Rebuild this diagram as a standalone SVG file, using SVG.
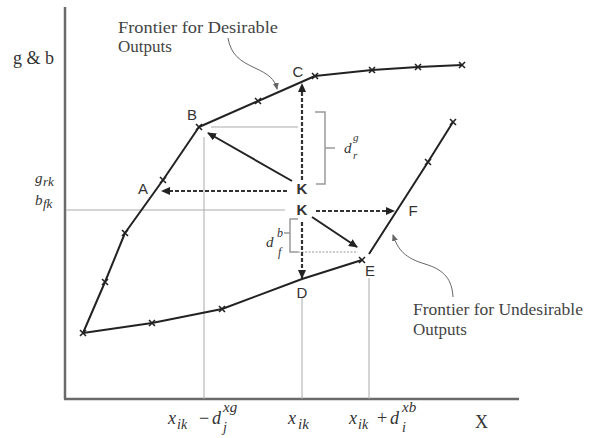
<svg xmlns="http://www.w3.org/2000/svg" xmlns:xlink="http://www.w3.org/1999/xlink" width="592" height="438" viewBox="0 0 592 438">
<style>
.ax{stroke:#6a6a6a;stroke-width:2.5;fill:none}
.fr{stroke:#222;stroke-width:2;fill:none;stroke-linejoin:round}
.guide{stroke:#aaa;stroke-width:1;fill:none}
.dot{stroke:#999;stroke-width:1;fill:none;stroke-dasharray:2 1.5}
.br{stroke:#999;stroke-width:1.5;fill:none}
.sol{stroke:#222;stroke-width:2;fill:none}
.dash{stroke:#333;stroke-width:2.2;fill:none;stroke-dasharray:4 2}
.cur{stroke:#666;stroke-width:1;fill:none}
.tk{stroke:#222;stroke-width:1.6;fill:none}
.lab{font-family:"Liberation Sans",Arial,sans-serif;font-size:15px;fill:#333}
.note{font-family:"Liberation Serif","Times New Roman",serif;font-size:17px;fill:#444}
.m{font-family:"Liberation Serif","Times New Roman",serif;font-style:italic;fill:#333}
.up{font-family:"Liberation Serif","Times New Roman",serif;fill:#333}
</style>
<defs>
<marker id="ah" markerWidth="9" markerHeight="8" refX="8" refY="4" orient="auto" markerUnits="userSpaceOnUse">
<path d="M0,0 L9,4 L0,8 Z" fill="#222"/>
</marker>
<marker id="ahg" markerWidth="7" markerHeight="6" refX="6" refY="3" orient="auto" markerUnits="userSpaceOnUse">
<path d="M0,0 L7,3 L0,6 Z" fill="#666"/>
</marker>
<path id="t" d="M-3,-3 L3,3 M-3,3 L3,-3"/>
</defs>

<g id="axes">
<line class="ax" x1="65" y1="7" x2="65" y2="399"/>
<line class="ax" x1="64" y1="399" x2="519" y2="399"/>
<text class="up" x="13" y="64" font-size="18">g &amp; b</text>
<text class="up" x="475" y="428" font-size="18">X</text>
</g>

<g id="guides">
<line class="guide" x1="211" y1="127" x2="298" y2="127"/>
<line class="guide" x1="204" y1="137" x2="204" y2="399"/>
<line class="guide" x1="66" y1="210" x2="285" y2="210"/>
<line class="guide" x1="302" y1="298" x2="302" y2="399"/>
<line class="guide" x1="369" y1="278" x2="369" y2="399"/>
<line class="dot" x1="298" y1="252" x2="358" y2="252"/>
</g>

<g id="frontier-desirable">
<polyline class="fr" points="83,333 105,282 125,233 163,180 199,127 315,76 372,70 418,67 462,65"/>
<g class="tk">
<use xlink:href="#t" x="83" y="333"/><use xlink:href="#t" x="105" y="282"/><use xlink:href="#t" x="125" y="233"/>
<use xlink:href="#t" x="163" y="180"/><use xlink:href="#t" x="199" y="127"/><use xlink:href="#t" x="258" y="101"/>
<use xlink:href="#t" x="315" y="76"/><use xlink:href="#t" x="372" y="70"/><use xlink:href="#t" x="418" y="67"/><use xlink:href="#t" x="462" y="65"/>
</g>
</g>

<g id="frontier-undesirable">
<polyline class="fr" points="83,333 152,323 222,309 302,279 362,260"/>
<polyline class="fr" points="369,254 428,162 453,122"/>
<g class="tk">
<use xlink:href="#t" x="152" y="323"/><use xlink:href="#t" x="222" y="309"/><use xlink:href="#t" x="362" y="260"/>
<use xlink:href="#t" x="428" y="162"/><use xlink:href="#t" x="453" y="122"/>
</g>
</g>

<g id="connectors">
<line class="sol" x1="292" y1="181" x2="208" y2="133" marker-end="url(#ah)"/>
<line class="sol" x1="312" y1="217" x2="357" y2="247" marker-end="url(#ah)"/>
<line class="dash" x1="302" y1="180" x2="302" y2="84" marker-end="url(#ah)"/>
<line class="dash" x1="287" y1="191" x2="162" y2="191" marker-end="url(#ah)"/>
<line class="dash" x1="316" y1="211" x2="394" y2="211" marker-end="url(#ah)"/>
<line class="dash" x1="302" y1="222" x2="302" y2="278" marker-end="url(#ah)"/>
<path class="cur" d="M228,38 C231,55 240,61 255,68 C268,74 275,79 277,89" marker-end="url(#ahg)"/>
<path class="cur" d="M453,297 C452,280 445,270 425,264 C405,258 398,250 393,235" marker-end="url(#ahg)"/>
</g>

<g id="bracket-g">
<path class="br" d="M315,112 H325 V184 H316 M325,148 H335"/>
<text class="m" x="344" y="153" font-size="15">d</text>
<text class="m" x="353" y="141" font-size="11">g</text>
<text class="m" x="353" y="159" font-size="11">r</text>
</g>

<g id="bracket-b">
<path class="br" d="M298,219 H290 V252 H298 M290,233 H284"/>
<text class="m" x="266" y="247" font-size="15">d</text>
<text class="m" x="277" y="237" font-size="12">b</text>
<text class="m" x="278" y="256" font-size="12">f</text>
</g>

<g id="node-A"><text class="lab" x="143" y="194" text-anchor="middle">A</text></g>
<g id="node-B"><text class="lab" x="192" y="120" text-anchor="middle">B</text></g>
<g id="node-C"><text class="lab" x="298" y="77" text-anchor="middle">C</text></g>
<g id="node-D"><text class="lab" x="302" y="298" text-anchor="middle">D</text></g>
<g id="node-E"><text class="lab" x="370" y="276" text-anchor="middle">E</text></g>
<g id="node-F"><text class="lab" x="413" y="216" text-anchor="middle">F</text></g>
<g id="node-K1"><text class="lab" x="302" y="194" text-anchor="middle" font-weight="bold">K</text></g>
<g id="node-K2"><text class="lab" x="302" y="215" text-anchor="middle" font-weight="bold">K</text></g>

<g id="label-desirable">
<text class="note" x="118" y="33" textLength="160" lengthAdjust="spacingAndGlyphs">Frontier for Desirable</text>
<text class="note" x="118" y="52">Outputs</text>
</g>
<g id="label-undesirable">
<text class="note" x="413" y="315" textLength="170" lengthAdjust="spacingAndGlyphs">Frontier for Undesirable</text>
<text class="note" x="413" y="335">Outputs</text>
</g>

<g id="y-labels">
<text class="m" x="35" y="183" font-size="15">g</text>
<text class="m" x="43" y="186" font-size="13">rk</text>
<text class="m" x="35" y="205" font-size="15">b</text>
<text class="m" x="43" y="208" font-size="13">fk</text>
</g>

<g id="x-labels">
<text class="m" x="168" y="424" font-size="18">x</text>
<text class="m" x="177" y="429" font-size="14">ik</text>
<text class="up" x="199" y="424" font-size="18">−</text>
<text class="m" x="212" y="424" font-size="18">d</text>
<text class="m" x="223" y="412" font-size="15">xg</text>
<text class="m" x="223" y="432" font-size="14">j</text>
<text class="m" x="288" y="424" font-size="18">x</text>
<text class="m" x="298" y="429" font-size="15">ik</text>
<text class="m" x="349" y="424" font-size="18">x</text>
<text class="m" x="358" y="429" font-size="14">ik</text>
<text class="up" x="377" y="424" font-size="18">+</text>
<text class="m" x="390" y="424" font-size="18">d</text>
<text class="m" x="402" y="412" font-size="15">xb</text>
<text class="m" x="402" y="432" font-size="14">i</text>
</g>
</svg>
